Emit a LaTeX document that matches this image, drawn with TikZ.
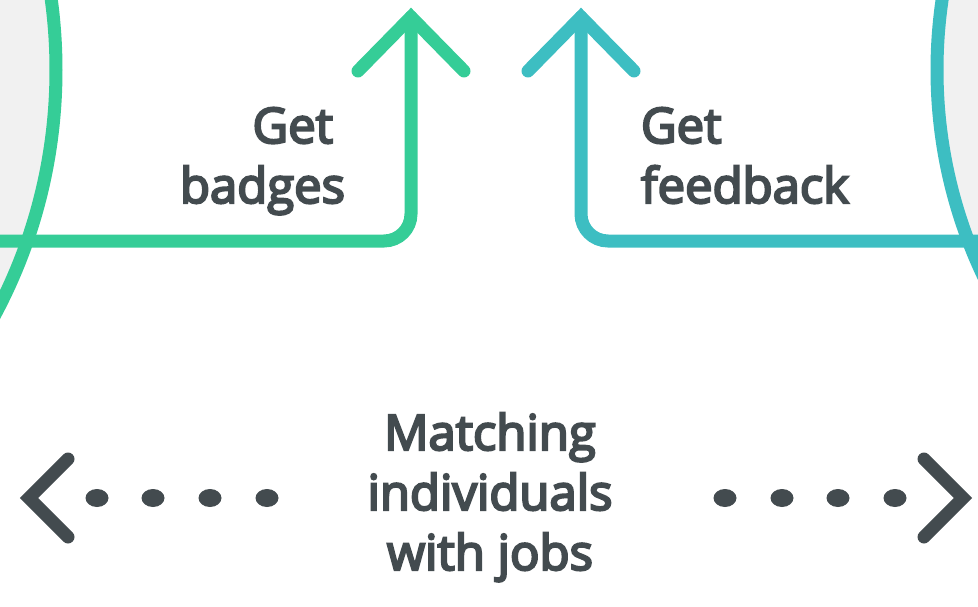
\documentclass[tikz,border=0pt]{standalone}
\usepackage{fontspec}
\setmainfont{Open Sans}
\newfontfamily\labelfont{Open Sans}[FakeBold=4.5]
\usetikzlibrary{calc}
\definecolor{badgegreen}{HTML}{35CD97}
\definecolor{feedteal}{HTML}{3DBEC2}
\definecolor{inkgray}{HTML}{434B4F}
\definecolor{panelgray}{HTML}{F1F1F1}
\tikzset{loop line/.style={line width=13pt,line cap=round,line join=miter},
         label text/.style={font=\labelfont\fontsize{49}{60}\selectfont,text=inkgray,inner sep=0pt,outer sep=0pt}}

\begin{document}
\begin{tikzpicture}[x=1pt,y=-1pt]
  \useasboundingbox (0,0) rectangle (978,607);
  \clip (0,0) rectangle (978,607);
  \coordinate (L) at (-464,70);% left circle centre
  \coordinate (R) at (1417,70);% right circle centre
  \fill[panelgray,draw=badgegreen,line width=13pt] (L) circle (520pt);
  \fill[panelgray,draw=feedteal,line width=13pt] (R) circle (480pt);

  \coordinate (G) at (411,17);% tip of the badges arrow
  \coordinate (F) at (581,17);% tip of the feedback arrow
  \draw[loop line,badgegreen,rounded corners=27pt] (0,241) -- (G |- 0,241) -- (G);
  \draw[loop line,badgegreen] ($(G)+(-53,54)$) -- (G) -- ($(G)+(53,54)$);
  \draw[loop line,feedteal,rounded corners=27pt] (978,241) -- (F |- 0,241) -- (F);
  \draw[loop line,feedteal] ($(F)+(-53,54)$) -- (F) -- ($(F)+(53,54)$);

  \node[label text,align=right,anchor=base east] (B) at (345,203) {Get\hspace*{12pt}\\badges};
  \node[label text,align=left,anchor=base west] (C) at (641,203) {Get\\feedback};
  \node[label text,align=center,anchor=base] (M) at (490,570) {Matching\\individuals\\with jobs};

  \draw[loop line,inkgray] (68,459) -- (29,498) -- (68,537);
  \draw[loop line,inkgray] (924,459) -- (963,498) -- (924,537);
  \foreach \x in {97,153,210,267,725,782,838,895} {%dots of the two way link
    \fill[inkgray] (\x,498) ellipse (11.5pt and 9pt);
  }
\end{tikzpicture}
\end{document}
